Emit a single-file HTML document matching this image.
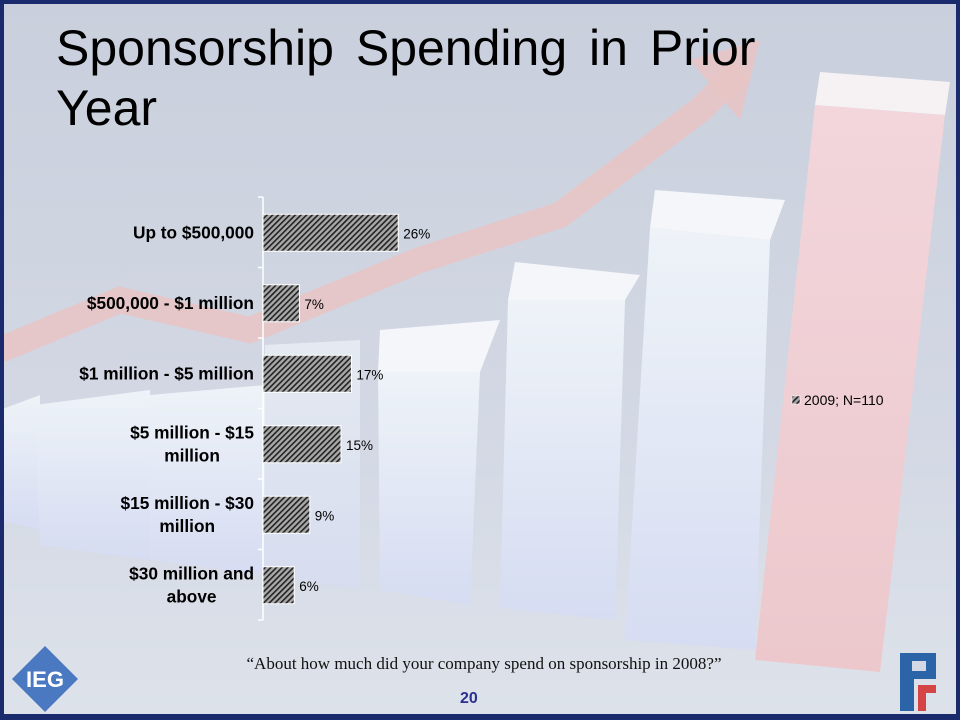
<!DOCTYPE html>
<html><head><meta charset="utf-8"><style>
html,body{margin:0;padding:0}
body{width:960px;height:720px;overflow:hidden;background:#1a2a6c;font-family:"Liberation Sans",sans-serif}
#slide{position:absolute;left:4px;top:4px;width:952px;height:710px;background:linear-gradient(180deg,#c9cfdc 0%,#d3d8e4 60%,#dde2ea 100%);overflow:hidden}
</style></head><body>
<div id="slide">
<svg width="952" height="710" viewBox="4 4 952 710" style="position:absolute;left:0;top:0">
  <defs>
    <linearGradient id="wb" x1="0" y1="0" x2="0" y2="1"><stop offset="0" stop-color="#eef3f8"/><stop offset="1" stop-color="#d6dcf2"/></linearGradient>
    <linearGradient id="rb" x1="0" y1="0" x2="0" y2="1"><stop offset="0" stop-color="#f2d6dc"/><stop offset="1" stop-color="#ecc8cc"/></linearGradient>
    <pattern id="hatch" width="4" height="4" patternUnits="userSpaceOnUse" patternTransform="rotate(45)"><rect width="4" height="4" fill="#a8a8a8"/><rect width="1.6" height="4" fill="#222"/></pattern>
  </defs>
  <polyline points="0,350 120,300 250,330 420,260 560,215 700,110 740,70" fill="none" stroke="#e9c4c4" stroke-width="26" opacity="0.85"/>
  <polygon points="690,60 760,40 740,120" fill="#e9c4c4" opacity="0.85"/>
  <polygon points="0,410 40,395 40,530 0,520" fill="url(#wb)"/>
  <polygon points="35,405 150,390 150,560 40,545" fill="url(#wb)"/>
  <polygon points="150,395 265,385 265,575 150,560" fill="url(#wb)"/>
  <polygon points="265,345 360,340 360,590 265,575" fill="url(#wb)" opacity="0.7"/>
  <polygon points="380,330 500,320 480,372 378,372" fill="#f4f6fa"/>
  <polygon points="378,372 480,372 470,605 380,590" fill="url(#wb)"/>
  <polygon points="515,262 640,275 625,300 508,300" fill="#f4f6fa"/>
  <polygon points="508,300 625,300 615,620 500,608" fill="url(#wb)"/>
  <polygon points="655,190 785,200 770,240 650,228" fill="#f4f6fa"/>
  <polygon points="650,228 770,240 755,650 625,640" fill="url(#wb)"/>
  <polygon points="820,72 950,82 945,115 815,105" fill="#f6f2f4"/>
  <polygon points="815,105 945,115 880,672 755,660" fill="url(#rb)"/>
</svg>
<div style="position:absolute;left:52px;top:14px;font-size:50px;line-height:60px;color:#000;width:800px;word-spacing:8px">Sponsorship Spending in Prior<br>Year</div>
<svg id="chart" width="952" height="710" viewBox="4 4 952 710" style="position:absolute;left:0;top:0"></svg>
<div style="position:absolute;left:160px;top:650px;width:640px;text-align:center;font-family:'Liberation Serif',serif;font-size:17px;color:#111">“About how much did your company spend on sponsorship in 2008?”</div>
<div style="position:absolute;left:456px;top:686px;font-size:16px;font-weight:bold;color:#2b2f8f">20</div>
<svg width="70" height="70" style="position:absolute;left:6px;top:640px">
<polygon points="35,2 68,35 35,68 2,35" fill="#4a79c2"/><text x="35" y="43" text-anchor="middle" font-family="Liberation Sans" font-weight="bold" font-size="22" fill="#fff">IEG</text></svg>
<svg width="50" height="70" style="position:absolute;left:890px;top:645px">
<rect x="6" y="4" width="14" height="58" fill="#2c64a8"/><rect x="6" y="4" width="36" height="26" fill="#2c64a8"/><rect x="18" y="12" width="14" height="10" fill="#d3d8e4"/><rect x="24" y="36" width="18" height="8" fill="#d64545"/><rect x="24" y="36" width="8" height="26" fill="#d64545"/></svg>
</div>
<script>
const categories=["Up to $500,000","$500,000 - $1 million","$1 million - $5 million","$5 million - $15 million","$15 million - $30 million","$30 million and above"];
const labelLines=[["Up to $500,000"],["$500,000 - $1 million"],["$1 million - $5 million"],["$5 million - $15","million"],["$15 million - $30","million"],["$30 million and","above"]];
const values=[26,7,17,15,9,6];
const valueLabels=["26%","7%","17%","15%","9%","6%"];
const svg=document.getElementById('chart');
const NS='http://www.w3.org/2000/svg';
const x0=263,pxPer=5.2,yTop=197,yBot=620;
const band=(yBot-yTop)/categories.length;
const xs=v=>x0+v*pxPer;
const yc=i=>yTop+band*(i+0.5);
function mk(t,a){const e=document.createElementNS(NS,t);for(const k in a)e.setAttribute(k,a[k]);svg.appendChild(e);return e;}
const ax=mk('line',{x1:x0,y1:yTop,x2:x0,y2:yBot,stroke:'#fff','stroke-width':1.5});


for(let i=0;i<=categories.length;i++){
  const t=mk('line',{x1:x0-5,y1:yTop+band*i,x2:x0,y2:yTop+band*i,stroke:'#fff','stroke-width':1.5});
  
  
}
categories.forEach((c,i)=>{
  const y=yc(i);
  const r=mk('rect',{x:x0,y:y-18,width:xs(values[i])-x0,height:37,fill:'url(#hatch)',stroke:'#fff','stroke-width':1});
  
  
  const v=mk('text',{x:xs(values[i])+5,y:y+6,'font-size':13.5,'font-family':'Liberation Sans',fill:'#000'});
  v.textContent=valueLabels[i];
  
  
  const lines=labelLines[i];
  let firstW=0;
  lines.forEach((ln,j)=>{
    const yy=y+6+(j-(lines.length-1)/2)*23;
    const tl=mk('text',{x:x0-9,y:yy,'font-size':17.3,'font-weight':'bold','font-family':'Liberation Sans','text-anchor':'end',fill:'#000'});
    tl.textContent=ln;
    
    
    if(j==0)firstW=tl.getComputedTextLength();
    else{tl.setAttribute('text-anchor','middle');tl.setAttribute('x',x0-9-firstW/2);}
  });
});
const lg=mk('rect',{x:792,y:396,width:8,height:8,fill:'url(#hatch)',stroke:'#fff','stroke-width':0.5});


const lt=mk('text',{x:804,y:405,'font-size':14,'font-family':'Liberation Sans',fill:'#000'});
lt.textContent='2009; N=110';


</script>
</body></html>
